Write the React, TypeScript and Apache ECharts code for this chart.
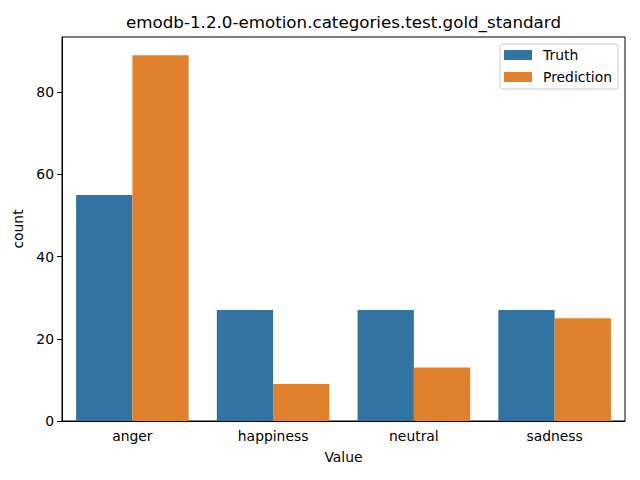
import React, { useEffect, useRef } from "react";
import * as echarts from "echarts";

const categories = ["anger", "happiness", "neutral", "sadness"];
const truthValues = [55, 27, 27, 27];
const predictionValues = [89, 9, 13, 25];
const yTicks = [0, 20, 40, 60, 80];

const FONT = "DejaVu Sans";

export default function App() {
  const ref = useRef<HTMLDivElement>(null);
  useEffect(() => {
    if (!ref.current) return;
    const chart = echarts.init(ref.current, null, { renderer: "svg" });
    chart.setOption({
      animation: false,
      backgroundColor: "#ffffff",
      textStyle: { fontFamily: FONT },
      graphic: [
        {
          type: "text",
          x: 343.5,
          y: 22,
          style: {
            text: "emodb-1.2.0-emotion.categories.test.gold_standard",
            font: `16.7px ${FONT}`,
            fill: "#000",
            align: "center",
            verticalAlign: "middle",
          },
        },
      ],
      legend: {
        orient: "vertical",
        right: 22,
        top: 44,
        itemWidth: 28,
        itemHeight: 10,
        itemGap: 8,
        padding: [4, 6, 5, 4],
        borderColor: "#cccccc",
        borderWidth: 1,
        borderRadius: 3,
        backgroundColor: "rgba(255,255,255,0.8)",
        icon: "rect",
        textStyle: { fontSize: 13.9, color: "#000", fontFamily: FONT, padding: [0, 0, 0, 6] },
        data: ["Truth", "Prediction"],
      },
      grid: {
        left: 62,
        right: 15,
        top: 37,
        bottom: 59,
        show: true,
        borderColor: "#000",
        borderWidth: 1,
        backgroundColor: "transparent",
      },
      xAxis: {
        type: "category",
        data: categories,
        name: "Value",
        nameLocation: "middle",
        nameGap: 29,
        nameTextStyle: { fontSize: 13.9, color: "#000", fontFamily: FONT },
        axisLine: { lineStyle: { color: "#000", width: 1 } },
        axisTick: { alignWithLabel: true, length: 5, lineStyle: { color: "#000" } },
        axisLabel: { fontSize: 13.9, color: "#000", margin: 8, fontFamily: FONT },
      },
      yAxis: {
        type: "value",
        min: 0,
        max: 93.45,
        interval: 20,
        name: "count",
        nameLocation: "middle",
        nameGap: 31,
        nameTextStyle: { fontSize: 13.9, color: "#000", fontFamily: FONT },
        axisLine: { show: true, lineStyle: { color: "#000", width: 1 } },
        axisTick: { show: true, length: 5, lineStyle: { color: "#000" }, customValues: yTicks },
        axisLabel: {
          fontSize: 13.9,
          color: "#000",
          margin: 8,
          fontFamily: FONT,
          customValues: yTicks,
        },
        splitLine: { show: false },
      },
      series: [
        {
          name: "Truth",
          type: "bar",
          data: truthValues,
          barGap: "0%",
          barCategoryGap: "20%",
          itemStyle: { color: "#3274a1" },
        },
        {
          name: "Prediction",
          type: "bar",
          data: predictionValues,
          barGap: "0%",
          barCategoryGap: "20%",
          itemStyle: { color: "#e1812c" },
        },
      ],
    });
    return () => chart.dispose();
  }, []);
  return (
    <div
      ref={ref}
      style={{ position: "absolute", left: 0, top: 0, width: 640, height: 480 }}
    />
  );
}
